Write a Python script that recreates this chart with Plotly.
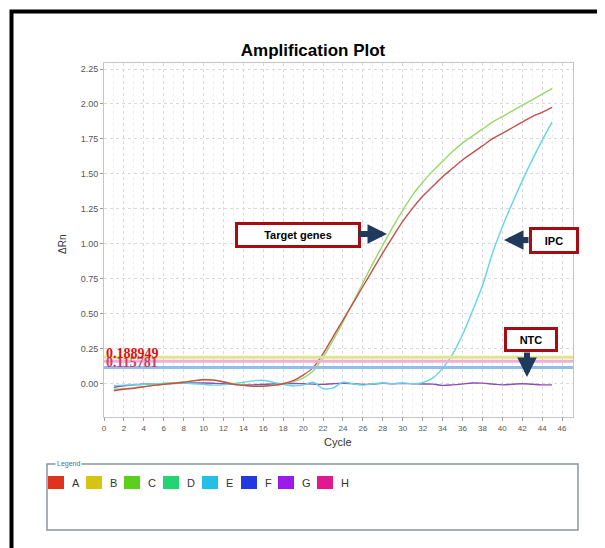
import plotly.graph_objects as go

cycles = list(range(1, 46))

target_red = [-0.050, -0.040, -0.032, -0.022, -0.012, -0.004, 0.003, 0.010, 0.020, 0.028,
              0.026, 0.012, -0.004, -0.012, -0.018, -0.018, -0.012, 0.000, 0.022, 0.062,
              0.115, 0.215, 0.335, 0.455, 0.575, 0.695, 0.815, 0.935, 1.050, 1.160,
              1.255, 1.340, 1.410, 1.480, 1.540, 1.600, 1.650, 1.700, 1.750, 1.790,
              1.830, 1.870, 1.910, 1.940, 1.975]

target_green = [-0.040, -0.035, -0.030, -0.020, -0.010, -0.002, 0.005, 0.012, 0.022, 0.030,
                0.028, 0.015, 0.000, -0.010, -0.015, -0.016, -0.010, 0.002, 0.015, 0.040,
                0.090, 0.190, 0.310, 0.440, 0.580, 0.720, 0.860, 0.990, 1.120, 1.240,
                1.350, 1.440, 1.520, 1.590, 1.660, 1.720, 1.770, 1.820, 1.870, 1.910,
                1.950, 1.990, 2.030, 2.070, 2.110]

ipc_cyan = [-0.015, -0.010, -0.008, -0.005, 0.000, 0.003, 0.005, 0.005, 0.000, -0.005,
            -0.010, -0.008, 0.000, 0.010, 0.020, 0.025, 0.010, -0.005, -0.015, -0.010,
            0.010, -0.035, -0.030, 0.010, 0.000, -0.010, 0.000, 0.005, 0.000, 0.005,
            0.000, 0.008, 0.040, 0.110, 0.210, 0.350, 0.520, 0.700, 0.930, 1.120,
            1.290, 1.450, 1.600, 1.740, 1.870]

ntc_purple = [-0.025, -0.015, -0.008, -0.004, -0.002, 0.000, 0.002, 0.004, 0.005, 0.005,
              0.003, 0.000, -0.005, -0.008, -0.008, -0.005, -0.002, 0.000, 0.002, 0.000,
              -0.003, -0.005, 0.000, 0.003, 0.000, -0.005, -0.002, 0.003, 0.000, 0.002,
              0.000, -0.002, -0.003, -0.012, -0.008, -0.002, 0.005, 0.004, -0.002, -0.008,
              -0.004, 0.000, -0.004, -0.008, -0.008]

thresholds = [0.188949, 0.160, 0.115781]
threshold_colors = ["#dfe58a", "#f2aed3", "#8fbfe8"]

legend_names = ["A", "B", "C", "D", "E", "F", "G", "H"]
legend_colors = ["#e0321c", "#d6c412", "#5ccf1c", "#22d472", "#22bfe6", "#2238e0", "#9a1ce6", "#e01a8e"]

x_ticks = list(range(0, 47, 2))
y_ticks = [0.00, 0.25, 0.50, 0.75, 1.00, 1.25, 1.50, 1.75, 2.00, 2.25]

# page offset of the plot div inside the browser window
OFF = 8
W, H = 605, 548
# plot area in window pixels
L, R, T, B = 104, 573, 63, 417


def px(xp):
    return (xp - L) / (R - L)


def py(yp):
    return (B - yp) / (B - T)


fig = go.Figure()

series = [
    (ntc_purple, "#8a4fb8"),
    (ipc_cyan, "#62d6e2"),
    (target_green, "#98d968"),
    (target_red, "#c4504c"),
]
for vals, col in series:
    fig.add_trace(go.Scatter(x=cycles, y=vals, mode="lines",
                             line=dict(color=col, width=1.4, shape="spline"),
                             showlegend=False, hoverinfo="skip"))

shapes = []
for t, c in zip(thresholds, threshold_colors):
    shapes.append(dict(type="line", xref="paper", yref="y", x0=0, x1=1, y0=t, y1=t,
                       line=dict(color=c, width=3), layer="above"))

# outer black frame (left and top)
shapes.append(dict(type="path", xref="paper", yref="paper",
                   path=f"M {px(11.5)} {py(570)} L {px(11.5)} {py(11.5)} L {px(640)} {py(11.5)}",
                   line=dict(color="black", width=4)))

# legend box
shapes.append(dict(type="rect", xref="paper", yref="paper",
                   x0=px(47), x1=px(578), y0=py(530), y1=py(464),
                   line=dict(color="#8a949e", width=1.5), fillcolor="rgba(0,0,0,0)"))

annotations = []
annotations.append(dict(text="Legend", xref="paper", yref="paper", x=px(55), y=py(464),
                        xanchor="left", yanchor="middle", showarrow=False,
                        font=dict(size=7, color="#4a6a9a", family="Arial"), bgcolor="white"))

sq_x = [48, 86, 124, 163, 202, 241, 278, 317]
for name, col, x0 in zip(legend_names, legend_colors, sq_x):
    shapes.append(dict(type="rect", xref="paper", yref="paper",
                       x0=px(x0), x1=px(x0 + 16), y0=py(489), y1=py(476),
                       line=dict(width=0), fillcolor=col))
    annotations.append(dict(text=name, xref="paper", yref="paper", x=px(x0 + 22), y=py(483),
                            xanchor="left", yanchor="middle", showarrow=False,
                            font=dict(size=11, color="#333333", family="Arial")))

# threshold value labels (overlapping, as in the reference)
annotations.append(dict(text="<b>0.115781</b>", xref="paper", yref="y", x=0, y=0.150,
                        xanchor="left", yanchor="middle", showarrow=False,
                        font=dict(size=14, color="#c8406e", family="Liberation Serif")))
annotations.append(dict(text="<b>0.188949</b>", xref="paper", yref="y", x=0, y=0.215,
                        xanchor="left", yanchor="middle", showarrow=False,
                        font=dict(size=14, color="#e01010", family="Liberation Serif")))

box_font = dict(size=11, color="black", family="Arial")
annotations.append(dict(text="<b>Target genes</b>", xref="paper", yref="paper",
                        x=px(298), y=py(234.5), xanchor="center", yanchor="middle",
                        showarrow=False, font=box_font, bgcolor="white",
                        bordercolor="#a50d12", borderwidth=3, borderpad=2,
                        width=116, height=16))
annotations.append(dict(text="<b>IPC</b>", xref="paper", yref="paper",
                        x=px(554), y=py(241), xanchor="center", yanchor="middle",
                        showarrow=False, font=box_font, bgcolor="white",
                        bordercolor="#a50d12", borderwidth=3, borderpad=2,
                        width=40, height=17))
annotations.append(dict(text="<b>NTC</b>", xref="paper", yref="paper",
                        x=px(530.5), y=py(339), xanchor="center", yanchor="middle",
                        showarrow=False, font=box_font, bgcolor="white",
                        bordercolor="#a50d12", borderwidth=3, borderpad=2,
                        width=44, height=15))

arrow_col = "#1f3a5c"
for hx, hy, ax, ay in [(387, 234, -30, 0), (504, 240, 26, 0), (527, 377, 0, -26)]:
    annotations.append(dict(text="", xref="paper", yref="paper", x=px(hx), y=py(hy),
                            ax=ax, ay=ay, showarrow=True, arrowhead=2, arrowsize=0.65,
                            arrowwidth=6, arrowcolor=arrow_col, standoff=0, startstandoff=0))

annotations.append(dict(text="ΔRn", xref="paper", yref="paper", x=px(62), y=py(245),
                        xanchor="center", yanchor="middle", showarrow=False, textangle=-90,
                        font=dict(size=10, color="#333333", family="Arial")))
annotations.append(dict(text="Cycle", xref="paper", yref="paper", x=px(338), y=py(442),
                        xanchor="center", yanchor="middle", showarrow=False,
                        font=dict(size=11, color="#333333", family="Arial")))

fig.update_layout(
    width=W, height=H,
    margin=dict(l=L - OFF, r=W - (R - OFF), t=T - OFF, b=H - (B - OFF)),
    paper_bgcolor="white", plot_bgcolor="white",
    title=dict(text="<b>Amplification Plot</b>", x=(313 - OFF) / W, xref="container",
               y=1 - (50 - OFF) / H, yref="container", xanchor="center", yanchor="middle",
               font=dict(size=17, color="black", family="Arial")),
    shapes=shapes, annotations=annotations,
    xaxis=dict(range=[0, 47.1], tickvals=x_ticks, ticktext=[str(v) for v in x_ticks],
               showgrid=True, gridcolor="#dadada", griddash="dot", gridwidth=1,
               minor=dict(dtick=1, showgrid=True, gridcolor="#efefef", griddash="dot"),
               showline=True, linecolor="#c4c4c4", linewidth=1, mirror=True,
               ticks="outside", ticklen=3, tickcolor="#9a9a9a",
               tickfont=dict(size=8, color="#555555", family="Arial"), zeroline=False),
    yaxis=dict(range=[-0.238, 2.293], tickvals=y_ticks, ticktext=[f"{v:.2f}" for v in y_ticks],
               showgrid=True, gridcolor="#dadada", griddash="dot", gridwidth=1,
               showline=True, linecolor="#c4c4c4", linewidth=1, mirror=True,
               ticks="outside", ticklen=3, tickcolor="#9a9a9a",
               tickfont=dict(size=9, color="#555555", family="Arial"), zeroline=False),
)

fig.write_html("out.html")
